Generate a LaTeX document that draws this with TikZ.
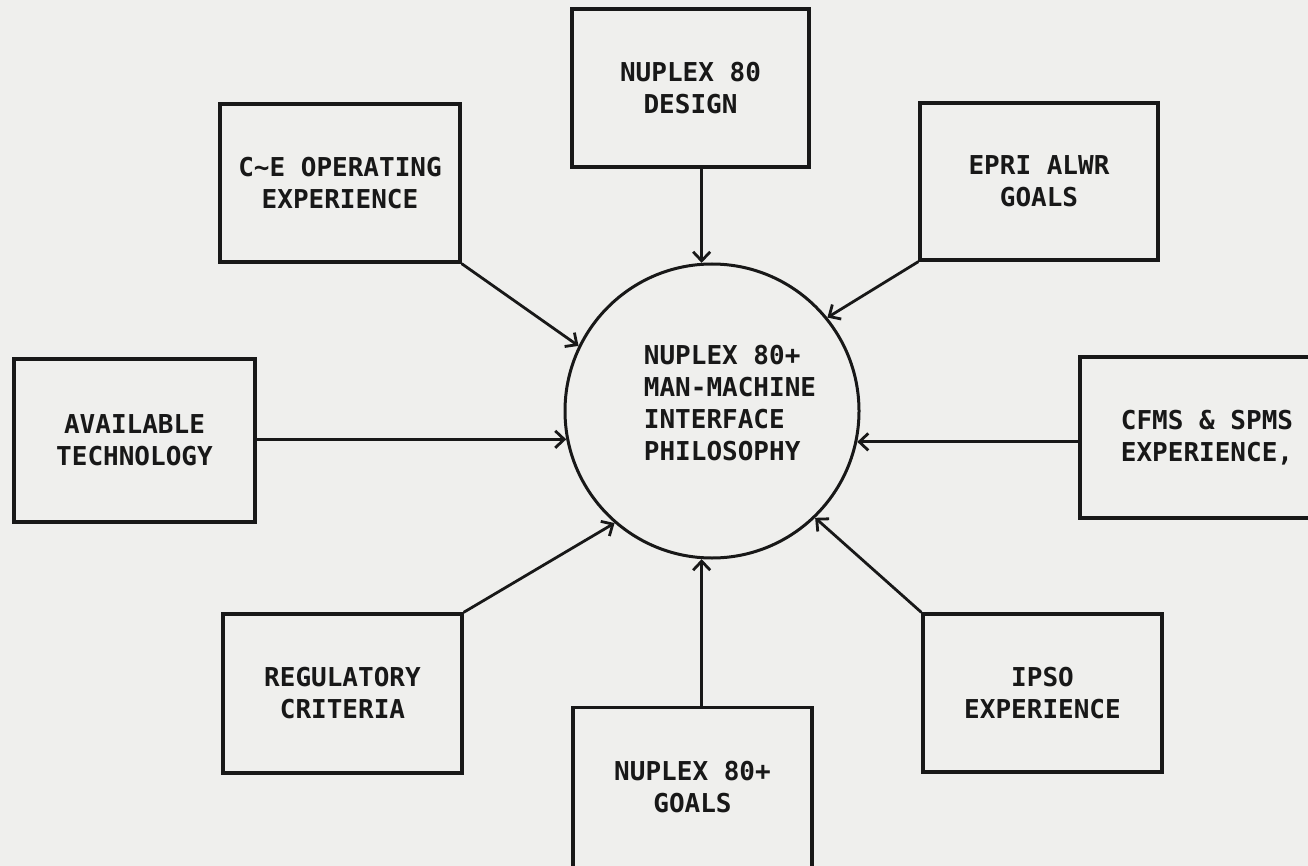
\documentclass[tikz,border=0pt]{standalone}
\usepackage{fontspec}
\newfontfamily\plotfont{DejaVu Sans Mono}[BoldFont={DejaVu Sans Mono Bold}]
\usetikzlibrary{arrows.meta}
\definecolor{paper}{RGB}{239,239,237}
\definecolor{ink}{RGB}{24,24,24}
\tikzset{
  box/.style={draw=ink, line width=3.3pt, rectangle, align=center, inner sep=0pt,
    font=\plotfont\bfseries\fontsize{26}{32}\selectfont, text=ink},
  hub/.style={draw=ink, line width=3pt, circle, inner sep=0pt, minimum size=294pt},
  hubtext/.style={align=left, inner sep=0pt, font=\plotfont\bfseries\fontsize{26}{32}\selectfont, text=ink},
  feed/.style={draw=ink, line width=2.8pt, -{Straight Barb[length=9pt,width=17pt]}},
}
\begin{document}
\begin{tikzpicture}[x=1pt,y=-1pt]
\useasboundingbox (0,0) rectangle (1308,866);
\clip (0,0) rectangle (1308,866);
\fill[paper] (0,0) rectangle (1308,866);

\node[hub] (phil) at (712,411) {};
\node[hubtext] (philtext) at (730,403) {NUPLEX 80+\\MAN-MACHINE\\INTERFACE\\PHILOSOPHY};

\node[box, minimum width=237pt, minimum height=158pt] (design) at (690.5,88) {NUPLEX 80\\DESIGN};
\node[box, minimum width=240pt, minimum height=158pt] (ce) at (340,183) {C\textasciitilde E OPERATING\\EXPERIENCE};
\node[box, minimum width=238pt, minimum height=157pt] (epri) at (1039,181.5) {EPRI ALWR\\GOALS};
\node[box, minimum width=241pt, minimum height=163pt] (avail) at (134.5,440.5) {AVAILABLE\\TECHNOLOGY};
\node[box, minimum width=254pt, minimum height=161pt] (cfms) at (1207,437.5) {CFMS \& SPMS\\EXPERIENCE,};
\node[box, minimum width=239pt, minimum height=159pt] (reg) at (342.5,693.5) {REGULATORY\\CRITERIA};
\node[box, minimum width=239pt, minimum height=158pt] (ipso) at (1042.5,693) {IPSO\\EXPERIENCE};
\node[box, minimum width=239pt, minimum height=160pt] (goals) at (692.5,787.5) {NUPLEX 80+\\GOALS};

\draw[feed] (phil.94 |- design.south) -- (phil.94);
\draw[feed] (ce.south east) -- (phil.154);
\draw[feed] (epri.south west) -- (phil.39);
\draw[feed] (phil.191 -| avail.east) -- (phil.191);
\draw[feed] (phil.348 -| cfms.west) -- (phil.348);
\draw[feed] (reg.north east) -- (phil.229);
\draw[feed] (ipso.north west) -- (phil.314);
\draw[feed] (phil.266 |- goals.north) -- (phil.266);
\end{tikzpicture}
\end{document}
